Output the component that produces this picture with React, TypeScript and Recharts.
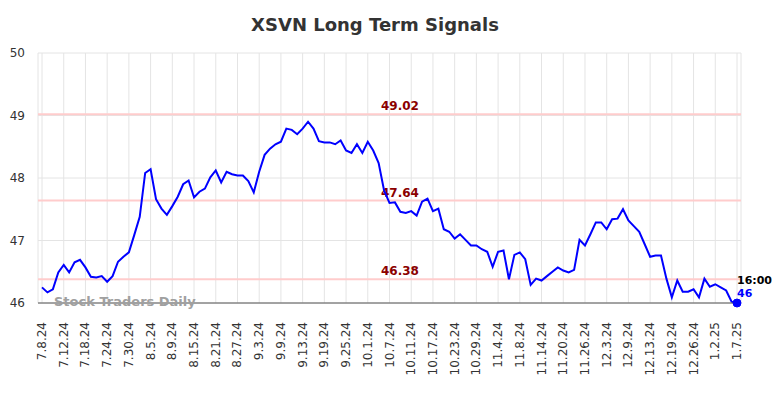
import React from "react";
import {
  LineChart,
  Line,
  XAxis,
  YAxis,
  CartesianGrid,
  ReferenceLine,
  ReferenceDot,
} from "recharts";

const tickLabels = [
  "7.8.24", "7.12.24", "7.18.24", "7.24.24", "7.30.24", "8.5.24", "8.9.24",
  "8.15.24", "8.21.24", "8.27.24", "9.3.24", "9.9.24", "9.13.24", "9.19.24",
  "9.25.24", "10.1.24", "10.7.24", "10.11.24", "10.17.24", "10.23.24",
  "10.29.24", "11.4.24", "11.8.24", "11.14.24", "11.20.24", "11.26.24",
  "12.3.24", "12.9.24", "12.13.24", "12.19.24", "12.26.24", "1.2.25", "1.7.25",
];

const prices = [
  46.25, 46.17, 46.22, 46.49, 46.61, 46.49, 46.65, 46.69, 46.57, 46.42,
  46.41, 46.43, 46.34, 46.43, 46.66, 46.74, 46.81, 47.09, 47.38, 48.08,
  48.14, 47.66, 47.51, 47.41, 47.55, 47.7, 47.9, 47.96, 47.69, 47.78,
  47.83, 48.01, 48.12, 47.93, 48.1, 48.06, 48.04, 48.04, 47.95, 47.77,
  48.1, 48.37, 48.47, 48.54, 48.58, 48.79, 48.77, 48.7, 48.79, 48.9,
  48.79, 48.59, 48.57, 48.57, 48.54, 48.6, 48.44, 48.4, 48.54, 48.4,
  48.58, 48.44, 48.24, 47.8, 47.6, 47.61, 47.46, 47.44, 47.47, 47.4,
  47.62, 47.67, 47.47, 47.51, 47.18, 47.14, 47.03, 47.1, 47.01, 46.92,
  46.92, 46.86, 46.82, 46.58, 46.82, 46.84, 46.38, 46.77, 46.81, 46.7,
  46.29, 46.39, 46.36, 46.43, 46.5, 46.57, 46.52, 46.49, 46.53, 47.01,
  46.92, 47.1, 47.29, 47.29, 47.18, 47.34, 47.35, 47.5, 47.32, 47.23,
  47.14, 46.94, 46.74, 46.76, 46.76, 46.39, 46.09, 46.36, 46.18, 46.18,
  46.22, 46.09, 46.39, 46.26, 46.3, 46.25, 46.2, 46.02, 46.0,
];

const signalLevels = [49.02, 47.64, 46.38];
const yTicks = [46, 47, 48, 49, 50];
const lastTime = "16:00";

const TICK_STEP = 4;
const data = prices.map((v, i) => ({ i, v }));
const xTicks = tickLabels.map((_, k) => k * TICK_STEP);
const lastIndex = prices.length - 1;
const lastValue = prices[lastIndex];

const FONT = "'DejaVu Sans', sans-serif";

const XTick = (props: any) => {
  const { x, y, payload } = props;
  const label = tickLabels[Math.round(payload.value / TICK_STEP)];
  return (
    <g transform={`translate(${x},${y})`}>
      <text
        x={0}
        y={0}
        dy={4}
        textAnchor="end"
        transform="rotate(-90)"
        fontSize={12}
        fontFamily={FONT}
        fill="#333"
      >
        {label}
      </text>
    </g>
  );
};

const LevelLabel = (props: any) => {
  const { viewBox, value } = props;
  const x = viewBox.x + 362;
  const y = viewBox.y - 4;
  return (
    <text
      x={x}
      y={y}
      textAnchor="middle"
      fontSize={12}
      fontWeight="bold"
      fontFamily={FONT}
      fill="#8b0000"
    >
      {value}
    </text>
  );
};

const LastLabel = (props: any) => {
  const { viewBox } = props;
  const cx = viewBox.x + viewBox.width / 2;
  const cy = viewBox.y + viewBox.height / 2;
  return (
    <g>
      <text
        x={cx}
        y={cy - 19.5}
        fontSize={11}
        fontWeight="bold"
        fontFamily={FONT}
        fill="#000"
      >
        {lastTime}
      </text>
      <text
        x={cx}
        y={cy - 6}
        fontSize={11}
        fontWeight="bold"
        fontFamily={FONT}
        fill="#0000ff"
      >
        {Math.round(lastValue)}
      </text>
    </g>
  );
};

export default function App() {
  return (
    <div
      style={{
        position: "absolute",
        left: 0,
        top: 0,
        width: 784,
        height: 398,
        background: "#fff",
        fontFamily: FONT,
      }}
    >
      <div
        style={{
          position: "absolute",
          left: 0,
          width: 750,
          top: 14,
          textAlign: "center",
          fontSize: 18,
          fontWeight: "bold",
          color: "#333",
          fontFamily: FONT,
        }}
      >
        XSVN Long Term Signals
      </div>
      <LineChart
        width={784}
        height={398}
        data={data}
        margin={{ top: 53, right: 43, bottom: 0, left: 0 }}
      >
        <CartesianGrid stroke="#e4e4e4" strokeWidth={1} />
        <XAxis
          type="number"
          dataKey="i"
          domain={[0, lastIndex]}
          ticks={xTicks}
          interval={0}
          height={95}
          padding={{ left: 4, right: 4 }}
          tickLine={false}
          tickSize={0}
          tickMargin={19}
          axisLine={{ stroke: "#555", strokeWidth: 1 }}
          tick={<XTick />}
        />
        <YAxis
          type="number"
          domain={[46, 50]}
          ticks={yTicks}
          width={38}
          axisLine={false}
          tickLine={false}
          tickSize={0}
          tickMargin={13}
          tick={{ fontSize: 12, fill: "#333", fontFamily: FONT }}
        />
        {signalLevels.map((lvl) => (
          <ReferenceLine
            key={lvl}
            y={lvl}
            stroke="#ffcccc"
            strokeWidth={2}
            label={<LevelLabel value={lvl.toFixed(2)} />}
          />
        ))}
        <Line
          type="linear"
          dataKey="v"
          stroke="#0000ff"
          strokeWidth={2}
          dot={false}
          isAnimationActive={false}
        />
        <ReferenceDot
          x={lastIndex}
          y={lastValue}
          r={4}
          fill="#0000ff"
          stroke="#0000ff"
          ifOverflow="visible"
          label={<LastLabel />}
        />
      </LineChart>
      <div
        style={{
          position: "absolute",
          left: 54,
          top: 294,
          fontSize: 13,
          fontWeight: "bold",
          color: "#a0a0a0",
          fontFamily: FONT,
          whiteSpace: "nowrap",
          pointerEvents: "none",
        }}
      >
        Stock Traders Daily
      </div>
    </div>
  );
}
